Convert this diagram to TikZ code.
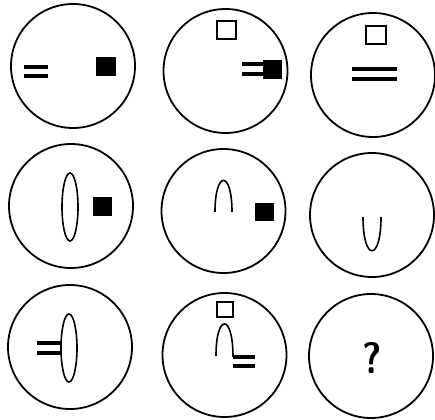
\documentclass[tikz,border=0pt]{standalone}
\usepackage{tikz}
\usetikzlibrary{positioning}
\tikzset{
  ring/.style={circle, draw=black, line width=1.8pt, minimum size=124pt, inner sep=0pt},
  bar/.style={line width=3.4pt, line cap=butt},
  thin/.style={line width=1.6pt},
  solidsq/.style={fill=black},
  hollowsq/.style={draw=black, line width=1.4pt},
  qmark/.style={font=\fontsize{44}{44}\selectfont\sffamily\bfseries, inner sep=0pt, xscale=0.85}
}
\begin{document}
\begin{tikzpicture}[x=1pt, y=-1pt]
  \useasboundingbox (0,0) rectangle (435,419);
  % Draw the nine circles
  \foreach \name/\cx/\cy in {c1/73/66, c2/225.5/71, c3/373/75,
                             c4/71/206, c5/223.5/211, c6/372/215,
                             c7/70/347, c8/224.5/355, c9/371/356} {
    \node[ring] (\name) at (\cx,\cy) {};
  }

  % Row 1
  \draw[bar] (24,67) -- (48,67);
  \draw[bar] (24,76) -- (48,76);
  \fill[solidsq] (96,57) rectangle (116,76);

  \draw[hollowsq] (217,21) rectangle (236,39);
  \draw[bar] (242,64) -- (263,64);
  \draw[bar] (242,74) -- (263,74);
  \fill[solidsq] (263,60) rectangle (282,79);

  \draw[hollowsq] (366,26) rectangle (386,44);
  \draw[bar] (352,69) -- (397,69);
  \draw[bar] (352,79) -- (397,79);

  % Row 2
  \draw[thin] (70,207) ellipse [x radius=8, y radius=34];
  \fill[solidsq] (93,197) rectangle (112,216);

  \draw[thin] (215,212) .. controls (215,170) and (232,170) .. (232,212);
  \fill[solidsq] (255,203) rectangle (274,221);

  \draw[thin] (363,217) .. controls (363,262) and (381,262) .. (381,217);

  % Row 3
  \draw[thin] (69,348) ellipse [x radius=8, y radius=34];
  \draw[bar] (37,343) -- (61,343);
  \draw[bar] (37,353) -- (61,353);

  \draw[hollowsq] (217,302) rectangle (233,317);
  \draw[thin] (216,356) .. controls (216,313) and (233,313) .. (233,357);
  \draw[bar] (233,357) -- (255,357);
  \draw[bar] (233,366) -- (255,366);

  \node[qmark] (q) at (372,358) {?};
\end{tikzpicture}
\end{document}
